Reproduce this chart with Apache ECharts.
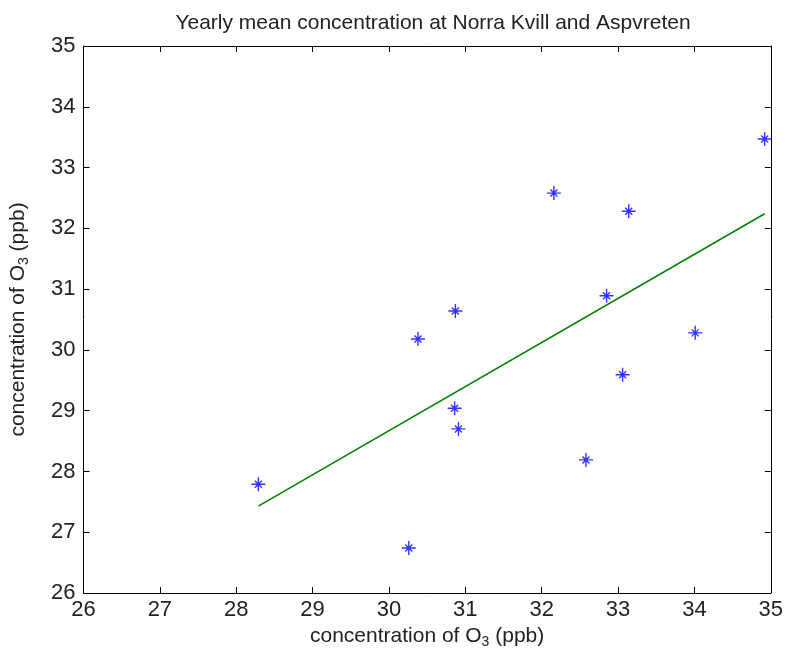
<!DOCTYPE html>
<html>
<head>
<meta charset="utf-8">
<script src="https://cdn.jsdelivr.net/npm/echarts@6/dist/echarts.min.js"></script>
<style>
html,body{margin:0;padding:0;background:#fff;}
#c{width:786px;height:655px;}
</style>
</head>
<body>
<div id="c"></div>
<script>
// Data
var stationX = [28.29, 30.26, 30.38, 30.87, 30.86, 30.91, 32.16, 32.58, 32.85, 33.14, 33.06, 34.01, 34.92];
var stationY = [27.79, 26.74, 30.18, 30.64, 29.04, 28.70, 32.58, 28.19, 30.89, 32.28, 29.59, 30.28, 33.47];
var fitX = [28.29, 34.92];
var fitY = [27.43, 32.24];
var xTicks = [26, 27, 28, 29, 30, 31, 32, 33, 34, 35];
var yTicks = [26, 27, 28, 29, 30, 31, 32, 33, 34, 35];
var titleText = 'Yearly mean concentration at Norra Kvill and Aspvreten';
var axisNameText = 'concentration of O{sub|3} (ppb)';

var FONT = '"Liberation Sans Narrow", "Liberation Sans", Arial, sans-serif';
var pts = stationX.map(function (x, i) { return [x, stationY[i]]; });
var fitPts = fitX.map(function (x, i) { return [x, fitY[i]]; });

var star = 'path://M9 0 H11 V20 H9 Z M0 9 H20 V11 H0 Z M5.7 4.3 L15.7 14.3 L14.3 15.7 L4.3 5.7 Z M14.3 4.3 L15.7 5.7 L5.7 15.7 L4.3 14.3 Z';

var nameStyle = {
  fontFamily: FONT, fontSize: 21, color: '#222',
  rich: { sub: { fontFamily: FONT, fontSize: 14, color: '#222', padding: [12, 0, 0, 0] } }
};
var labelStyle = { fontFamily: FONT, fontSize: 22, color: '#222' };
var lineStyle = { color: '#000', width: 1 };

var chart = echarts.init(document.getElementById('c'), null, { renderer: 'canvas' });
chart.setOption({
  backgroundColor: '#fff',
  animation: false,
  title: {
    text: titleText,
    left: 428, top: 8, textAlign: 'center',
    textStyle: { fontFamily: FONT, fontSize: 21, fontWeight: 'normal', color: '#222' }
  },
  grid: { left: 83, right: 12, top: 46, bottom: 62 },
  xAxis: [{
    type: 'value', min: xTicks[0], max: xTicks[xTicks.length - 1], interval: 1,
    position: 'bottom',
    name: axisNameText, nameLocation: 'middle', nameGap: 30, nameTextStyle: nameStyle,
    axisLine: { show: true, lineStyle: lineStyle },
    axisTick: { show: true, inside: true, length: 6, lineStyle: lineStyle },
    axisLabel: Object.assign({ margin: 6 }, labelStyle),
    splitLine: { show: false }
  }, {
    type: 'value', min: xTicks[0], max: xTicks[xTicks.length - 1], interval: 1,
    position: 'top',
    axisLine: { show: true, lineStyle: lineStyle },
    axisTick: { show: true, inside: true, length: 6, lineStyle: lineStyle },
    axisLabel: { show: false },
    splitLine: { show: false }
  }],
  yAxis: [{
    type: 'value', min: yTicks[0], max: yTicks[yTicks.length - 1], interval: 1,
    position: 'left',
    name: axisNameText, nameLocation: 'middle', nameGap: 52, nameRotate: 90, nameTextStyle: nameStyle,
    axisLine: { show: true, lineStyle: lineStyle },
    axisTick: { show: true, inside: true, length: 6, lineStyle: lineStyle },
    axisLabel: Object.assign({ margin: 8 }, labelStyle),
    splitLine: { show: false }
  }, {
    type: 'value', min: yTicks[0], max: yTicks[yTicks.length - 1], interval: 1,
    position: 'right',
    axisLine: { show: true, lineStyle: lineStyle },
    axisTick: { show: true, inside: true, length: 6, lineStyle: lineStyle },
    axisLabel: { show: false },
    splitLine: { show: false }
  }],
  series: [{
    type: 'line',
    data: fitPts,
    xAxisIndex: 0, yAxisIndex: 0,
    showSymbol: false, symbol: 'none',
    lineStyle: { color: '#008000', width: 1.5 },
    z: 2
  }, {
    type: 'scatter',
    data: pts,
    xAxisIndex: 0, yAxisIndex: 0,
    symbol: star, symbolSize: 14,
    itemStyle: { color: '#0000ff' },
    z: 3
  }]
});
</script>
</body>
</html>
